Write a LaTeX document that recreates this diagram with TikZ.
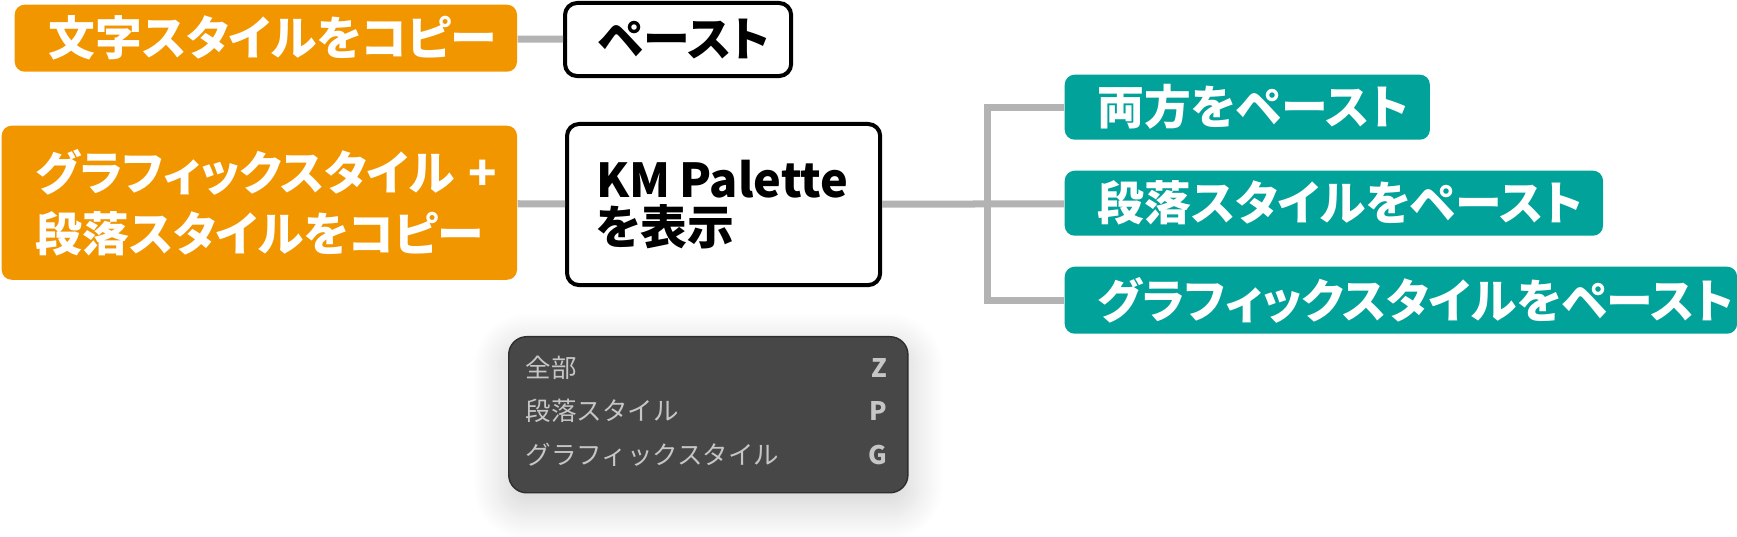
\documentclass[tikz,border=0pt]{standalone}
\usepackage{fontspec}
\newfontfamily\jp{Noto Sans CJK JP}[RawFeature=+palt]
\newfontfamily\jpmenu{Noto Sans CJK JP}
\usetikzlibrary{shadows.blur}
\definecolor{copyorange}{HTML}{F29600}
\definecolor{pasteteal}{HTML}{00A29A}
\definecolor{linkgray}{HTML}{B3B3B3}
\definecolor{palettebg}{HTML}{474747}
\definecolor{paletteline}{HTML}{2E2E2E}
\definecolor{palettetext}{HTML}{C6C6C6}

\begin{document}
\begin{tikzpicture}[x=0.01cm, y=-0.01cm]
                \tikzstyle{label} = [font=\jp\bfseries\fontsize{13.3pt}{16pt}\selectfont]
                \tikzstyle{box} = [label, anchor=north west, inner xsep=0.34cm, inner ysep=0pt, align=left]
                \tikzstyle{copy} = [box, rounded corners=0.1cm, fill=copyorange, text=white]
                \tikzstyle{paste} = [box, rounded corners=0.1cm, fill=pasteteal, text=white, inner xsep=0.33cm]
                \tikzstyle{plain} = [box, rounded corners=0.12cm, draw=black, line width=0.04cm, fill=white, inner xsep=0.33cm]
                \tikzstyle{link} = [line width=0.07cm, color=linkgray]
                \tikzstyle{menu} = [font=\jpmenu\fontsize{7.25pt}{8pt}\selectfont, text=palettetext, inner sep=0pt]
                \tikzstyle{key} = [menu, font=\jpmenu\bfseries\fontsize{7.25pt}{8pt}\selectfont, anchor=base east]
                \useasboundingbox (0, 0) rectangle (1737, 537);
                \node[copy, text width=4.34cm, minimum height=0.67cm] (copytext) at (14, 4) {文字スタイルをコピー};
                \node[plain, text width=1.60cm, minimum height=0.73cm] (pastetext) at (563, 1) {ペースト};
                \node[copy, text width=4.47cm, minimum height=1.54cm, align=center, font=\jp\bfseries\fontsize{13.3pt}{17.6pt}\selectfont] (copyboth) at (1, 125) {グラフィックスタイル\kern0.3em+\\段落スタイルをコピー};
                \node[plain, text width=2.55cm, inner xsep=0.29cm, minimum height=1.61cm, font=\jp\bfseries\fontsize{13.3pt}{13.6pt}\selectfont] (showpalette) at (565, 122) {KM\kern0.2em Palette\\を表示};
                \node[paste, text width=2.99cm, minimum height=0.65cm] (pasteboth) at (1064, 74) {両方をペースト};
                \node[paste, text width=4.72cm, minimum height=0.65cm] (pastepara) at (1064, 170) {段落スタイルをペースト};
                \node[paste, text width=6.06cm, minimum height=0.67cm] (pastegraph) at (1064, 266) {グラフィックスタイルをペースト};
                \coordinate (fork) at (987, 202);
                \draw[link] (copytext) -- (pastetext);
                \draw[link] (copyboth) -- (showpalette);
                \draw[link] (showpalette) -- (pastepara);
                \draw[link] (pasteboth.west) -| (fork) |- (pastegraph.west);
                \node[anchor=north west, minimum width=3.99cm, minimum height=1.56cm, rounded corners=0.18cm, fill=palettebg, draw=paletteline, line width=0.4pt, blur shadow={shadow xshift=0cm, shadow yshift=-0.12cm, shadow blur radius=0.35cm, shadow blur steps=24, shadow opacity=20}] (palette) at (508, 336) {};
                \node[menu, anchor=base west] (menuall) at (525, 377) {全部};
                \node[menu, anchor=base west] (menupara) at (525, 420) {段落スタイル};
                \node[menu, anchor=base west] (menugraph) at (525, 464) {グラフィックスタイル};
                \node[key] (keyall) at (888, 377) {Z};
                \node[key] (keypara) at (888, 420) {P};
                \node[key] (keygraph) at (888, 464) {G};
            \end{tikzpicture}
\end{document}
